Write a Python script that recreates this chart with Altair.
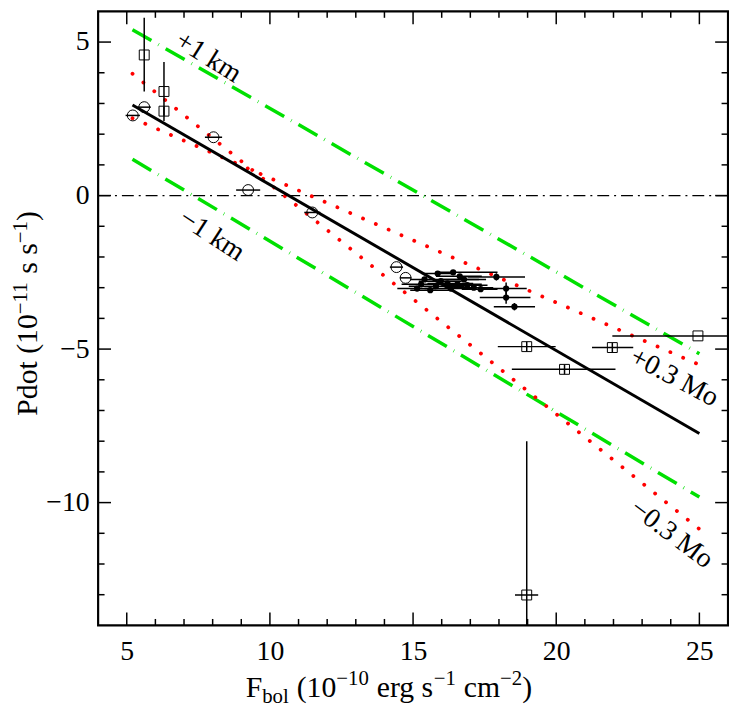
import altair as alt
import pandas as pd

W, H = 636, 620
FONT = "Liberation Serif"
NB = "\u00a0"

# ---------------- data ----------------
x_major = [5, 10, 15, 20, 25]
x_minor = [6, 7, 8, 9, 11, 12, 13, 14, 16, 17, 18, 19, 21, 22, 23, 24]
y_major = [-10, -5, 0, 5]
y_minor = [-13, -12, -11, -9, -8, -7, -6, -4, -3, -2, -1, 1, 2, 3, 4]

fit_x = [5.2, 25.0]
fit_y = [2.95, -7.75]
kmp_x = [5.2, 25.0]
kmp_y = [5.40, -5.15]
kmm_x = [5.2, 25.0]
kmm_y = [1.18, -9.82]
mop_x = [5.2, 25.0]
mop_y = [2.52, -5.51]
mom_x = [5.2, 25.0]
mom_y = [3.97, -10.86]

# open circles with horizontal error bars
circ_x = [5.21, 5.61, 8.03, 9.24, 11.48, 14.42, 14.74]
circ_y = [2.61, 2.88, 1.90, 0.18, -0.55, -2.33, -2.68]
circ_xe = [0.25, 0.23, 0.30, 0.42, 0.28, 0.23, 0.20]

# open squares with vertical error bars
sq_x = [5.61, 6.30, 6.30]
sq_y = [4.58, 3.39, 2.75]
sq_ylo = [3.39, 2.43, 2.60]
sq_yhi = [5.79, 4.35, 2.90]

# boxed squares with error bars
bs_x = [18.97, 21.96, 20.29, 24.95, 18.97]
bs_y = [-4.92, -4.95, -5.66, -4.57, -13.01]
bs_xlo = [17.96, 21.25, 18.45, 21.96, 18.56]
bs_xhi = [19.98, 22.69, 22.07, 27.94, 19.37]
bs_ylo = [-5.08, -5.10, -5.82, -4.57, -18.0]
bs_yhi = [-4.76, -4.80, -5.50, -4.57, -8.0]

# filled points (dense cluster)
cl_x = [15.86, 16.40, 16.63, 17.91, 18.25, 18.25, 18.54, 15.60, 15.14, 15.40,
        15.97, 16.20, 16.55, 16.89, 17.12, 17.36, 16.32, 15.80, 15.28, 16.78]
cl_y = [-2.54, -2.50, -2.63, -2.65, -3.03, -3.32, -3.62, -3.08, -3.03, -2.73,
        -2.79, -2.86, -2.89, -2.92, -3.00, -3.05, -3.03, -2.95, -2.89, -2.73]
cl_xlo = [15.30, 15.90, 15.80, 16.90, 17.33, 17.33, 17.82, 14.90, 14.45, 14.90,
          15.20, 15.50, 15.70, 16.20, 16.40, 16.70, 15.40, 14.85, 14.60, 16.00]
cl_xhi = [16.50, 17.95, 17.40, 18.91, 18.97, 19.10, 19.26, 16.30, 15.80, 17.30,
          16.70, 17.10, 17.40, 17.60, 17.80, 17.95, 17.20, 16.80, 16.00, 17.55]
cl_ye = [0.05, 0.06, 0.05, 0.12, 0.20, 0.20, 0.12, 0.06, 0.05, 0.05,
         0.05, 0.05, 0.05, 0.08, 0.06, 0.08, 0.05, 0.05, 0.05, 0.05]

lab_text = ["+1" + NB + "km", "\u22121" + NB + "km", "+0.3" + NB + "Mo", "\u22120.3" + NB + "Mo"]
lab_x = [7.85, 7.97, 24.12, 24.03]
lab_y = [4.50, -1.30, -5.93, -11.03]
lab_angle = [32, 33, 28, 37]

# ---------------- scales / encodings ----------------
xs = alt.Scale(domain=[4, 26], nice=False, zero=False)
ys = alt.Scale(domain=[-14, 6], nice=False, zero=False)
xaxis = alt.Axis(values=x_major, title=None, labelPadding=12)
yaxis = alt.Axis(values=y_major, title=None, labelPadding=9)


def X(f):
    return alt.X(f, type="quantitative", scale=xs, axis=xaxis)


def Y(f):
    return alt.Y(f, type="quantitative", scale=ys, axis=yaxis)


def line_layer(xv, yv, color, width, dash=None, cap="butt"):
    df = pd.DataFrame({"x": xv, "y": yv})
    kw = dict(color=color, strokeWidth=width, strokeCap=cap)
    if dash:
        kw["strokeDash"] = dash
    return alt.Chart(df).mark_line(**kw).encode(x=X("x"), y=Y("y"))


layers = []
# ticks (inward on all four sides)
for vals, ln in [(x_major, 13), (x_minor, 6.5)]:
    d = pd.DataFrame({"v": vals})
    layers.append(alt.Chart(d).mark_rule(color="black", strokeWidth=1.5).encode(
        x=X("v"), y=alt.value(H), y2=alt.value(H - ln)))
    layers.append(alt.Chart(d).mark_rule(color="black", strokeWidth=1.5).encode(
        x=X("v"), y=alt.value(0), y2=alt.value(ln)))
for vals, ln in [(y_major, 13), (y_minor, 6.5)]:
    d = pd.DataFrame({"v": vals})
    layers.append(alt.Chart(d).mark_rule(color="black", strokeWidth=1.5).encode(
        y=Y("v"), x=alt.value(0), x2=alt.value(ln)))
    layers.append(alt.Chart(d).mark_rule(color="black", strokeWidth=1.5).encode(
        y=Y("v"), x=alt.value(W), x2=alt.value(W - ln)))

# zero line
layers.append(alt.Chart(pd.DataFrame({"z": [0]})).mark_rule(
    color="black", strokeWidth=1.3, strokeDash=[12, 5, 2, 5]).encode(y=Y("z")))

# model lines
layers.append(line_layer(kmp_x, kmp_y, "#00e000", 3.5, [22, 8, 0.6, 8]))
layers.append(line_layer(kmm_x, kmm_y, "#00e000", 3.5, [22, 8, 0.6, 8]))
layers.append(line_layer(mop_x, mop_y, "#ff0000", 3.8, [0.1, 14], "round"))
layers.append(line_layer(mom_x, mom_y, "#ff0000", 3.8, [0.1, 14], "round"))
layers.append(line_layer(fit_x, fit_y, "black", 3))

# circles
cdf = pd.DataFrame({"x": circ_x, "y": circ_y,
                    "xlo": [a - b for a, b in zip(circ_x, circ_xe)],
                    "xhi": [a + b for a, b in zip(circ_x, circ_xe)]})
layers.append(alt.Chart(cdf).mark_rule(color="black", strokeWidth=1.5).encode(
    x=X("xlo"), x2="xhi", y=Y("y")))
layers.append(alt.Chart(cdf).mark_point(shape="circle", filled=False, color="black",
                                        size=121, strokeWidth=1, opacity=1).encode(
    x=X("x"), y=Y("y")))

# squares with vertical bars
sdf = pd.DataFrame({"x": sq_x, "y": sq_y, "ylo": sq_ylo, "yhi": sq_yhi})
layers.append(alt.Chart(sdf).mark_rule(color="black", strokeWidth=1.5, clip=True).encode(
    x=X("x"), y=Y("ylo"), y2="yhi"))
layers.append(alt.Chart(sdf).mark_point(shape="square", filled=False, color="black",
                                        size=100, strokeWidth=1, opacity=1).encode(
    x=X("x"), y=Y("y")))

# boxed squares
bdf = pd.DataFrame({"x": bs_x, "y": bs_y, "xlo": bs_xlo, "xhi": bs_xhi,
                    "ylo": bs_ylo, "yhi": bs_yhi})
layers.append(alt.Chart(bdf).mark_rule(color="black", strokeWidth=1.5, clip=True).encode(
    x=X("xlo"), x2="xhi", y=Y("y")))
layers.append(alt.Chart(bdf).mark_rule(color="black", strokeWidth=1.5, clip=True).encode(
    x=X("x"), y=Y("ylo"), y2="yhi"))
layers.append(alt.Chart(bdf).mark_point(shape="square", filled=False, color="black",
                                        size=100, strokeWidth=1, opacity=1).encode(
    x=X("x"), y=Y("y")))

# cluster of filled points
kdf = pd.DataFrame({"x": cl_x, "y": cl_y, "xlo": cl_xlo, "xhi": cl_xhi,
                    "ylo": [a - b for a, b in zip(cl_y, cl_ye)],
                    "yhi": [a + b for a, b in zip(cl_y, cl_ye)]})
layers.append(alt.Chart(kdf).mark_rule(color="black", strokeWidth=1.5).encode(
    x=X("xlo"), x2="xhi", y=Y("y")))
layers.append(alt.Chart(kdf).mark_rule(color="black", strokeWidth=1.5).encode(
    x=X("x"), y=Y("ylo"), y2="yhi"))
layers.append(alt.Chart(kdf).mark_circle(color="black", size=40, opacity=1).encode(
    x=X("x"), y=Y("y")))

# rotated line labels
ldf = pd.DataFrame({"t": lab_text, "x": lab_x, "y": lab_y, "a": lab_angle})
layers.append(alt.Chart(ldf).mark_text(font=FONT, fontSize=28, color="black",
                                       align="center", baseline="middle").encode(
    x=X("x"), y=Y("y"), text="t:N", angle=alt.Angle("a:Q", scale=None)))

# ---------------- composed axis titles ----------------
TW = {"P": 0.556, "d": 0.5, "o": 0.5, "t": 0.278, NB: 0.25, " ": 0.25, "(": 0.333,
      ")": 0.333, "1": 0.5, "0": 0.5, "2": 0.5, "\u2212": 0.564, "s": 0.389,
      "e": 0.444, "r": 0.333, "g": 0.5, "c": 0.444, "m": 0.778, "F": 0.556,
      "b": 0.5, "l": 0.278}


def tw(s, size):
    return sum(TW.get(ch, 0.5) for ch in s) * size


MAIN, SMALL = 30, 21
# (text, size, shift, leading gap in px)
x_pieces = [("F", MAIN, 0, 0), ("bol", SMALL, 6, 0), ("(10", MAIN, 0, 8),
            ("\u221210", SMALL, -12, 0), ("erg" + NB + "s", MAIN, 0, 8),
            ("\u22121", SMALL, -12, 0), ("cm", MAIN, 0, 8),
            ("\u22122", SMALL, -12, 0), (")", MAIN, 0, 0)]
y_pieces = [("Pdot" + NB + "(10", MAIN, 0, 0), ("\u221211", SMALL, -10, 0),
            ("s" + NB + "s", MAIN, 0, 8), ("\u22121", SMALL, -10, 0), (")", MAIN, 0, 0)]

xt_rows = []
cx = 248 - 99
for s, sz, dy, gap in x_pieces:
    cx += gap
    xt_rows.append({"t": s, "px": cx, "py": 692 + dy, "sz": sz})
    cx += tw(s, sz)
ylen = sum(tw(s, sz) + gap for s, sz, _, gap in y_pieces)
cy = 305 + ylen / 2
yt_rows = []
for s, sz, dx, gap in y_pieces:
    cy -= gap
    yt_rows.append({"t": s, "px": -62 + dx, "py": cy, "sz": sz})
    cy -= tw(s, sz)

for rows, ang in [(xt_rows, 0), (yt_rows, 270)]:
    for r in rows:
        layers.append(alt.Chart(pd.DataFrame([r])).mark_text(
            font=FONT, fontSize=r["sz"], color="black", align="left",
            baseline="alphabetic", angle=ang, clip=False).encode(
            x=alt.value(r["px"]), y=alt.value(r["py"]), text="t:N"))

chart = alt.layer(*layers).properties(
    width=W, height=H,
    autosize=alt.AutoSizeParams(type="none"),
    padding={"left": 91, "top": 0, "right": 1, "bottom": 80},
).configure_view(stroke="black", strokeWidth=2.2).configure_axis(
    grid=False, domain=False, ticks=False, labelFont=FONT, labelFontSize=28,
    labelColor="black")

chart.save("out.html", embed_options={"renderer": "svg", "actions": False})
